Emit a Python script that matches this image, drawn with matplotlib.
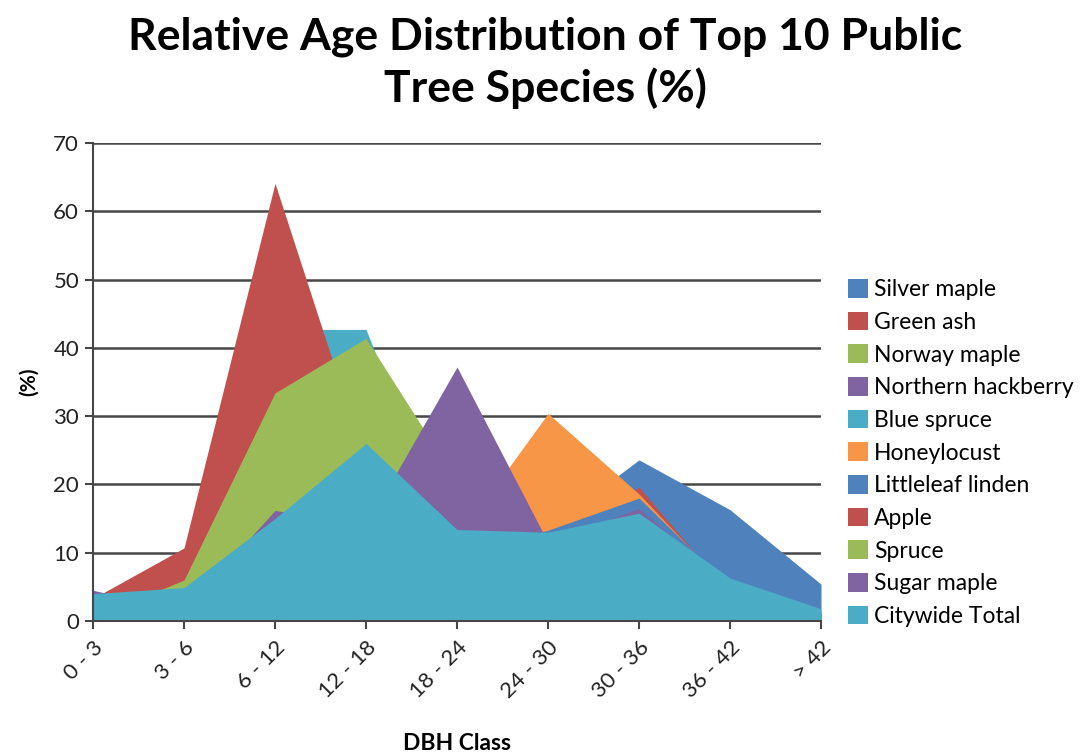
import matplotlib.pyplot as plt
from matplotlib.patches import Patch

plt.rcParams['font.family'] = ['Lato', 'DejaVu Sans']

dbh_classes = ['0 - 3', '3 - 6', '6 - 12', '12 - 18', '18 - 24',
               '24 - 30', '30 - 36', '36 - 42', '> 42']

# relative age distribution (%) per species, drawn back to front
silver_maple = [3.0, 4.0, 10.0, 15.0, 12.0, 13.6, 23.6, 16.3, 5.4]
green_ash = [3.0, 8.0, 22.0, 20.0, 14.0, 12.0, 19.6, 4.0, 1.0]
norway_maple = [3.0, 4.0, 25.0, 35.0, 18.0, 10.0, 9.0, 5.0, 1.0]
northern_hackberry = [3.5, 4.5, 12.0, 20.0, 25.0, 8.0, 10.0, 5.0, 1.0]
blue_spruce = [3.0, 8.0, 42.7, 42.7, 9.0, 5.0, 3.0, 1.0, 0.5]
honeylocust = [2.0, 3.0, 6.0, 8.0, 12.0, 30.4, 18.6, 4.5, 1.0]
littleleaf_linden = [2.0, 3.0, 8.0, 12.0, 10.0, 13.3, 18.0, 5.0, 1.0]
apple = [3.3, 10.7, 64.1, 23.0, 10.0, 8.0, 6.0, 3.0, 1.0]
spruce = [0.5, 6.0, 33.4, 41.4, 20.4, 10.0, 8.0, 4.0, 1.0]
sugar_maple = [4.5, 1.5, 16.2, 13.9, 37.2, 11.5, 16.5, 5.0, 1.0]
citywide_total = [4.0, 4.9, 15.0, 26.0, 13.4, 13.0, 15.8, 6.3, 1.8]

series = [
    ('Silver maple', silver_maple, '#4F81BD'),
    ('Green ash', green_ash, '#C0504D'),
    ('Norway maple', norway_maple, '#9BBB59'),
    ('Northern hackberry', northern_hackberry, '#8064A2'),
    ('Blue spruce', blue_spruce, '#4BACC6'),
    ('Honeylocust', honeylocust, '#F79646'),
    ('Littleleaf linden', littleleaf_linden, '#4F81BD'),
    ('Apple', apple, '#C0504D'),
    ('Spruce', spruce, '#9BBB59'),
    ('Sugar maple', sugar_maple, '#8064A2'),
    ('Citywide Total', citywide_total, '#4BACC6'),
]

fig = plt.figure(figsize=(10.91, 7.56), dpi=100)
ax = fig.add_axes([93 / 1091, 1 - 621 / 756, (821 - 93) / 1091, (621 - 143) / 756])

x = list(range(len(dbh_classes)))
for z, (name, vals, color) in enumerate(series):
    ax.fill_between(x, 0, vals, color=color, lw=0, zorder=2 + z * 0.01)

ax.set_xlim(0, len(dbh_classes) - 1)
ax.set_ylim(0, 70)
ax.set_yticks(range(0, 71, 10))
ax.yaxis.grid(True, color='#474747', lw=1.8)
ax.set_axisbelow(True)

for s in ['top', 'right']:
    ax.spines[s].set_visible(False)
for s in ['left', 'bottom']:
    ax.spines[s].set_color('#474747')
    ax.spines[s].set_linewidth(1.5)
    ax.spines[s].set_zorder(3)

ax.set_xticks(x)
ax.set_xticklabels(dbh_classes, rotation=45, ha='right', rotation_mode='anchor')
ax.tick_params(axis='both', length=6, width=1.5, color='#474747',
               labelsize=16, labelcolor='#222222')
ax.tick_params(axis='x', pad=6)
ax.tick_params(axis='y', pad=4)

ax.set_ylabel('(%)', fontsize=15, fontweight='bold', labelpad=10)
ax.set_xlabel('DBH Class', fontsize=16.5, fontweight='bold', labelpad=22)

fig.text(0.5, 0.978, 'Relative Age Distribution of Top 10 Public\nTree Species (%)',
         ha='center', va='top', fontsize=32, fontweight='bold', linespacing=1.3)

handles = [Patch(facecolor=c, edgecolor='none') for _, _, c in series]
fig.legend(handles, [n for n, _, _ in series], loc='upper left',
           bbox_to_anchor=(848 / 1091, 1 - 279 / 756), frameon=False,
           fontsize=16.5, handlelength=0.87, handleheight=0.87,
           handletextpad=0.27, labelspacing=0.5, borderpad=0, borderaxespad=0)

fig.savefig('out.png', dpi=100)
